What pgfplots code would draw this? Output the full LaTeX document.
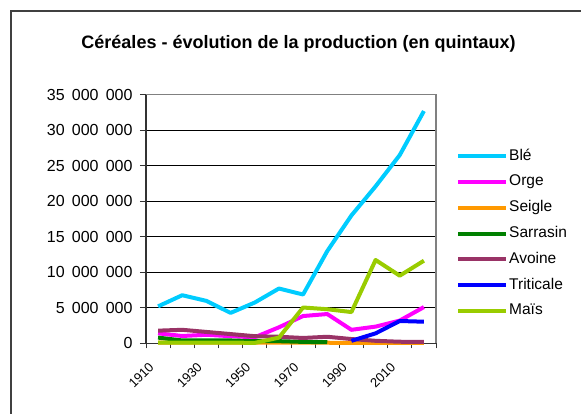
\documentclass[border=0pt]{standalone}
\usepackage{fontspec}
\setmainfont{Liberation Sans}
\usepackage{pgfplots}
\pgfplotsset{compat=1.18}
\usepackage{pgfplotstable}

\definecolor{cble}{HTML}{00CCFF}
\definecolor{corge}{HTML}{FF00FF}
\definecolor{cseigle}{HTML}{FF9900}
\definecolor{csarrasin}{HTML}{008000}
\definecolor{cavoine}{HTML}{993366}
\definecolor{ctriticale}{HTML}{0000FF}
\definecolor{cmais}{HTML}{99CC00}

\pgfplotstableread{
idx annee ble orge seigle sarrasin avoine triticale mais
0 1910 5200000 1400000 100000 800000 1780000 nan 100000
1 1920 6770000 1030000 100000 400000 1900000 nan 100000
2 1930 5970000 1200000 100000 400000 1600000 nan 100000
3 1940 4280000 1000000 100000 400000 1300000 nan 100000
4 1950 5740000 850000 100000 300000 1000000 nan 60000
5 1960 7710000 2250000 100000 300000 920000 nan 800000
6 1970 6870000 3840000 100000 200000 750000 nan 5040000
7 1980 12980000 4120000 80000 150000 920000 nan 4800000
8 1990 18000000 1900000 60000 nan 600000 350000 4400000
9 2000 22100000 2350000 50000 nan 350000 1400000 11730000
10 2010 26500000 3200000 50000 nan 220000 3140000 9520000
11 2020 32700000 5100000 50000 nan 200000 3040000 11630000
}\data

\begin{document}
\begin{tikzpicture}
\begin{axis}[
  at={(146bp,-343.3bp)}, anchor=south west,
  scale only axis, width=290bp, height=248.6bp,
  xmin=-0.5, xmax=11.5, ymin=0, ymax=35000000,
  clip=false,
  axis lines=left,
  axis line style={-, line width=1.5bp, draw=black!80},
  xtick={0,2,...,10},
  xticklabels={1910,1930,1950,1970,1990,2010},
  minor xtick={-0.5,0.5,...,11.5},
  major x tick style={draw=none},
  ytick={0,5000000,...,35000000},
  tick align=outside,
  major tick length=6bp,
  minor tick length=5bp,
  tick style={black!80, line width=1bp},
  ymajorgrids,
  major grid style={black, line width=0.8bp},
  scaled y ticks=false,
  /pgf/number format/assume math mode=true,
  yticklabel style={font=\fontsize{16bp}{19bp}\selectfont, xshift=-4bp,
    /pgf/number format/.cd, fixed, precision=0, 1000 sep={\hspace{0.45em}}},
  xticklabel style={font=\fontsize{13bp}{16bp}\selectfont, xshift=-10bp, yshift=-12bp,
    rotate=45, anchor=north east, inner sep=0pt},
  unbounded coords=jump,
  every axis plot/.append style={line width=4bp, no markers, line join=round},
  legend cell align=left,
  legend image code/.code={\draw[#1, line width=4bp] (0bp,0bp) -- (48bp,0bp);},
  legend style={at={(axis description cs:1.069,0.786)}, anchor=north west,
    draw=none, fill=none, inner sep=0pt,
    font=\fontsize{15.5bp}{18bp}\selectfont,
    row sep=9.8bp, column sep=0pt,
    nodes={inner sep=1bp, text height=11bp, text depth=3bp}},
]
\addplot[cble] table[x=idx, y=ble] {\data};
\addlegendentry{Blé}
\addplot[corge] table[x=idx, y=orge] {\data};
\addlegendentry{Orge}
\addplot[cseigle] table[x=idx, y=seigle] {\data};
\addlegendentry{Seigle}
\addplot[csarrasin] table[x=idx, y=sarrasin] {\data};
\addlegendentry{Sarrasin}
\addplot[cavoine] table[x=idx, y=avoine] {\data};
\addlegendentry{Avoine}
\addplot[ctriticale] table[x=idx, y=triticale] {\data};
\addlegendentry{Triticale}
\addplot[cmais] table[x=idx, y=mais] {\data};
\addlegendentry{Maïs}
\draw[gray, line width=1.5bp] (rel axis cs:0,1) -- (rel axis cs:1,1) -- (rel axis cs:1,0);
\end{axis}
\node[font=\bfseries\fontsize{18bp}{21bp}\selectfont] at (298.5bp,-44bp) {Céréales - évolution de la production (en quintaux)};
\draw[line width=1.5bp, black!75] (11bp,-430bp) -- (11bp,-11bp) -- (600bp,-11bp);
\pgfresetboundingbox
\path[use as bounding box] (0bp,0bp) rectangle (581bp,-414bp);
\end{tikzpicture}
\end{document}
